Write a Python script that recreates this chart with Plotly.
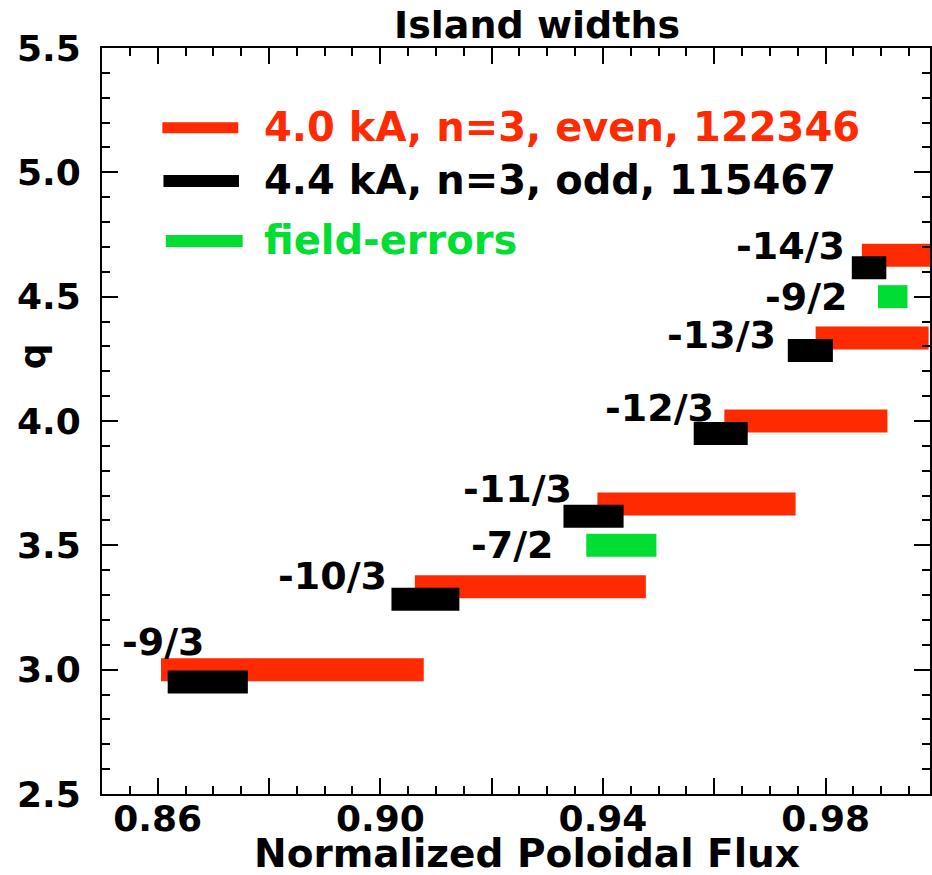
import plotly.graph_objects as go

# ---- data -------------------------------------------------------------
# rational surfaces (m/n) and radial extent of each island in normalized poloidal flux
even_q = [9 / 3, 10 / 3, 11 / 3, 12 / 3, 13 / 3, 14 / 3]
even_start = [0.8606, 0.9062, 0.9390, 0.9618, 0.9782, 0.9865]
even_end = [0.9078, 0.9477, 0.9746, 0.9911, 0.9985, 1.0000]

odd_q = [9 / 3, 10 / 3, 11 / 3, 12 / 3, 13 / 3, 14 / 3]
odd_start = [0.8618, 0.9020, 0.9329, 0.9563, 0.9732, 0.9847]
odd_end = [0.8762, 0.9142, 0.9437, 0.9660, 0.9813, 0.9909]

fe_q = [7 / 2, 9 / 2]
fe_start = [0.9370, 0.9894]
fe_end = [0.9496, 0.9947]

# surface labels
surf_text = ["-9/3", "-10/3", "-11/3", "-7/2", "-12/3", "-13/3", "-9/2", "-14/3"]
surf_x = [0.8689, 0.9015, 0.9348, 0.9316, 0.9603, 0.9714, 0.9843, 0.9839]
surf_y = [3.113, 3.377, 3.728, 3.500, 4.052, 4.347, 4.498, 4.704]

x_major = [0.86, 0.88, 0.90, 0.92, 0.94, 0.96, 0.98]
x_major_text = ["0.86", "", "0.90", "", "0.94", "", "0.98"]
y_major = [2.5, 3.0, 3.5, 4.0, 4.5, 5.0, 5.5]

legend_names = ["4.0 kA, n=3, even, 122346", "4.4 kA, n=3, odd, 115467", "field-errors"]

# ---- styling ----------------------------------------------------------
RED = "#ff2a00"
BLACK = "#000000"
GREEN = "#00dd33"
FONT = "DejaVu Sans"
ODD_SHIFT = -0.05       # odd-parity islands drawn just below the even ones
BAR_THICK = 0.0925

W, H = 932, 875
ML, MR, MT, MB = 102, 0, 48, 81

fig = go.Figure()


def island_trace(name, q, start, end, color, shift=0.0):
    return go.Bar(
        name=name,
        orientation="h",
        y=[v + shift for v in q],
        base=start,
        x=[e - s for s, e in zip(start, end)],
        width=BAR_THICK,
        marker=dict(color=color, line=dict(width=0)),
        showlegend=False,
        hoverinfo="skip",
    )


fig.add_trace(island_trace(legend_names[0], even_q, even_start, even_end, RED))
fig.add_trace(island_trace(legend_names[1], odd_q, odd_start, odd_end, BLACK, ODD_SHIFT))
fig.add_trace(island_trace(legend_names[2], fe_q, fe_start, fe_end, GREEN))

annotations = []
for t, x, y in zip(surf_text, surf_x, surf_y):
    annotations.append(dict(
        text=t, x=x, y=y, xref="x", yref="y", xanchor="right", yanchor="middle",
        showarrow=False, font=dict(family=FONT, size=38, color="black", weight="bold"),
    ))

# hand-drawn legend: thick line sample followed by coloured text
pw, ph = W - ML - MR, H - MT - MB


def px_x(px):
    return (px - ML) / pw


def px_y(py):
    return (H - MB - py) / ph


shapes = []
legend_rows = [(RED, 127.7, 162.5, 238.6, 11), (BLACK, 181.0, 163.6, 239.3, 12), (GREEN, 241.0, 166.0, 243.0, 12)]
for (col, yc, x0, x1, lw), name in zip(legend_rows, legend_names):
    shapes.append(dict(type="line", xref="paper", yref="paper",
                       x0=px_x(x0), x1=px_x(x1), y0=px_y(yc), y1=px_y(yc),
                       line=dict(color=col, width=lw)))
    annotations.append(dict(
        text=name, x=px_x(262.5), y=px_y(yc - 1), xref="paper", yref="paper",
        xanchor="left", yanchor="middle", showarrow=False,
        font=dict(family=FONT, size=40, color=col, weight="bold"),
    ))

# title and axis titles
annotations.append(dict(text="Island widths", x=px_x(538), y=px_y(25), xref="paper", yref="paper",
                        xanchor="center", yanchor="middle", showarrow=False,
                        font=dict(family=FONT, size=38, color="black", weight="bold")))
annotations.append(dict(text="Normalized Poloidal Flux", x=px_x(528), y=px_y(853), xref="paper", yref="paper",
                        xanchor="center", yanchor="middle", showarrow=False,
                        font=dict(family=FONT, size=39, color="black", weight="bold")))
annotations.append(dict(text="q", x=px_x(32), y=px_y(356), xref="paper", yref="paper",
                        xanchor="center", yanchor="middle", showarrow=False, textangle=-90,
                        font=dict(family=FONT, size=36, color="black", weight="bold")))

axis_common = dict(
    showgrid=False, zeroline=False, showline=True, linecolor="black", linewidth=2,
    mirror="ticks", ticks="inside", tickcolor="black", tickwidth=2, ticklen=16,
    tickfont=dict(family=FONT, size=36, color="black", weight="bold"),
)

fig.update_layout(
    width=W, height=H,
    margin=dict(l=ML, r=MR, t=MT, b=MB),
    paper_bgcolor="white", plot_bgcolor="white",
    barmode="overlay",
    showlegend=False,
    xaxis=dict(
        range=[0.85, 0.85 + pw / 5580.0],
        tickmode="array", tickvals=x_major, ticktext=x_major_text,
        minor=dict(tickmode="linear", tick0=0.85, dtick=0.005, ticks="inside",
                   ticklen=8, tickwidth=2, tickcolor="black"),
        ticklabelstandoff=-8,
        **axis_common,
    ),
    yaxis=dict(
        range=[2.5, 5.5],
        tickmode="array", tickvals=y_major, ticktext=[f"{v:.1f}" for v in y_major],
        minor=dict(tickmode="linear", tick0=2.5, dtick=0.1, ticks="inside",
                   ticklen=8, tickwidth=2, tickcolor="black"),
        ticklabelstandoff=12,
        **axis_common,
    ),
    shapes=shapes,
    annotations=annotations,
)

fig.write_html("out.html")
